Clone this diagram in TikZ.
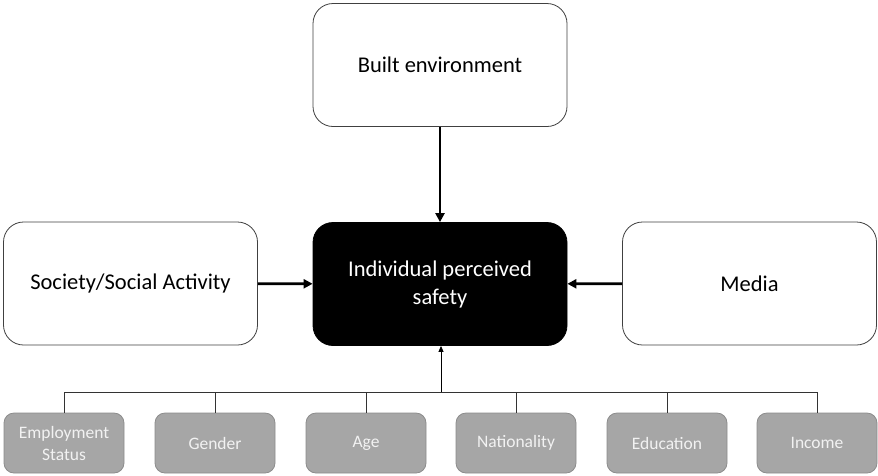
\documentclass[tikz,border=0pt]{standalone}
\usepackage{fontspec}
\setmainfont{Carlito}
\usetikzlibrary{arrows.meta}
\definecolor{boxgray}{HTML}{A6A6A6}
\definecolor{boxedge}{HTML}{8C8C8C}
\definecolor{boxtext}{HTML}{F2F2F2}
\begin{document}
\begin{tikzpicture}[x=1pt,y=-1pt,
  bigbox/.style={draw=black!75,line width=0.8pt,fill=white,rounded corners=20pt,minimum width=254pt,minimum height=123pt,inner sep=0pt,align=center,font=\fontsize{22.5}{28}\selectfont},
  blackbox/.style={bigbox,fill=black,draw=black,text=white},
  smallbox/.style={draw=boxedge,line width=0.8pt,fill=boxgray,rounded corners=10pt,minimum width=120pt,minimum height=60pt,inner sep=0pt,align=center,text=boxtext,font=\fontsize{17.5}{22}\selectfont},
  thickarrow/.style={line width=2.6pt,-{Triangle[length=9pt,width=9pt]}},
  thinarrow/.style={line width=0.8pt,-{Triangle[length=6pt,width=5pt]}},
  bus/.style={line width=1pt,draw=black!80}]
\useasboundingbox (0,0) rectangle (878,475);
\node[bigbox] (built) at (440,65) {Built environment};
\node[blackbox] (ips) at (440,284) {Individual perceived\\safety};
\node[bigbox] (soc) at (130.5,283.5) {Society/Social Activity};
\node[bigbox] (media) at (749.5,283.5) {Media};
\draw[thickarrow] (built) -- (ips);
\draw[thickarrow] (soc) -- (ips);
\draw[thickarrow] (media) -- (ips);
\node[smallbox] (emp) at (64,443) {Employment\\Status};
\node[smallbox] (gen) at (215,443) {Gender};
\node[smallbox] (age) at (366,443) {Age};
\node[smallbox] (nat) at (516,443) {Nationality};
\node[smallbox] (edu) at (667,443) {Education};
\node[smallbox] (inc) at (817,443) {Income};
\coordinate (busl) at (64,392);
\coordinate (busr) at (817,392);
\coordinate (busm) at (441,392);
\draw[bus] (emp.north) -- (busl) -- (busr) -- (inc.north);
\foreach \n in {gen,age,nat,edu}{\draw[bus] (\n.north) -- (\n.north |- busl);}
\draw[thinarrow] (busm) -- (busm |- ips.south);
\end{tikzpicture}
\end{document}
